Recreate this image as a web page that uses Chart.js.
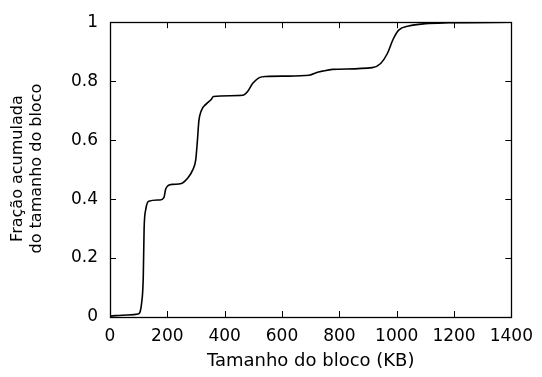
<!DOCTYPE html>
<html>
<head>
<meta charset="utf-8">
<script src="https://cdn.jsdelivr.net/npm/chart.js@4/dist/chart.umd.min.js"></script>
<style>
html,body{margin:0;padding:0;background:#fff;}
#wrap{width:542px;height:377px;position:relative;}
</style>
</head>
<body>
<div id="wrap"><canvas id="c" width="542" height="377"></canvas></div>
<script>
// Data (block size in KB vs cumulative fraction)
const sizesKB = [0, 60, 98, 110, 116, 119, 125, 135, 174, 188, 194, 203, 220, 249, 272, 289, 299, 305, 310, 318, 336, 353, 361, 463, 480, 498, 521, 544, 614, 695, 724, 741, 776, 915, 944, 967, 988, 1007, 1042, 1100, 1181, 1400];
const cumFraction = [0.003, 0.007, 0.01, 0.045, 0.134, 0.30, 0.366, 0.393, 0.397, 0.405, 0.433, 0.446, 0.450, 0.453, 0.472, 0.50, 0.533, 0.60, 0.665, 0.699, 0.723, 0.738, 0.748, 0.752, 0.765, 0.793, 0.812, 0.816, 0.817, 0.820, 0.830, 0.834, 0.840, 0.846, 0.860, 0.893, 0.943, 0.973, 0.987, 0.995, 0.998, 1.0];
const xTicks = [0, 200, 400, 600, 800, 1000, 1200, 1400];
const yTicks = [0, 0.2, 0.4, 0.6, 0.8, 1];
const xTitle = 'Tamanho do bloco (KB)';
const yTitle = ['Fração acumulada', 'do tamanho do bloco'];

const FONT = '"DejaVu Sans", Verdana, sans-serif';
const points = sizesKB.map((x, i) => ({x: x, y: cumFraction[i]}));

const frame = {
  id: 'frame',
  afterDraw(chart) {
    const ctx = chart.ctx, a = chart.chartArea;
    const xs = chart.scales.x, ys = chart.scales.y;
    ctx.save();
    ctx.strokeStyle = '#000';
    ctx.lineWidth = 1;
    ctx.beginPath();
    const L = 6;
    xTicks.forEach(v => {
      const px = Math.round(xs.getPixelForValue(v)) + 0.5;
      ctx.moveTo(px, a.bottom); ctx.lineTo(px, a.bottom - L);
      ctx.moveTo(px, a.top); ctx.lineTo(px, a.top + L);
    });
    yTicks.forEach(v => {
      const py = Math.round(ys.getPixelForValue(v)) + 0.5;
      ctx.moveTo(a.left, py); ctx.lineTo(a.left + L, py);
      ctx.moveTo(a.right, py); ctx.lineTo(a.right - L, py);
    });
    ctx.stroke();
    ctx.lineWidth = 1.3;
    ctx.strokeRect(Math.round(a.left) + 0.5, Math.round(a.top) + 0.5, Math.round(a.right - a.left), Math.round(a.bottom - a.top));
    // titles
    ctx.fillStyle = '#000';
    ctx.textAlign = 'center';
    ctx.textBaseline = 'middle';
    ctx.font = '18px ' + FONT;
    ctx.fillText(xTitle, (a.left + a.right) / 2, 361);
    ctx.font = '16px ' + FONT;
    ctx.translate(0, (a.top + a.bottom) / 2 - 1);
    ctx.rotate(-Math.PI / 2);
    ctx.fillText(yTitle[0], 0, 18);
    ctx.fillText(yTitle[1], 0, 37);
    ctx.restore();
  }
};

new Chart(document.getElementById('c'), {
  type: 'scatter',
  data: {
    datasets: [{
      data: points,
      showLine: true,
      borderColor: '#000',
      borderWidth: 1.6,
      pointRadius: 0,
      cubicInterpolationMode: 'monotone',
      fill: false
    }]
  },
  options: {
    responsive: false,
    animation: false,
    devicePixelRatio: 1,
    layout: {padding: {left: 0, right: 29, top: 16, bottom: 0}},
    plugins: {legend: {display: false}, tooltip: {enabled: false}},
    scales: {
      x: {
        type: 'linear', min: 0, max: 1400,
        afterBuildTicks: s => { s.ticks = xTicks.map(v => ({value: v})); },
        afterFit: s => { s.height = 60; },
        grid: {display: false, drawTicks: false},
        border: {display: false},
        ticks: {color: '#000', font: {family: FONT, size: 17}, padding: 9, maxRotation: 0, autoSkip: false,
          callback: v => String(v)}
      },
      y: {
        type: 'linear', min: 0, max: 1,
        afterBuildTicks: s => { s.ticks = yTicks.map(v => ({value: v})); },
        afterFit: s => { s.width = 110; },
        grid: {display: false, drawTicks: false},
        border: {display: false},
        ticks: {color: '#000', font: {family: FONT, size: 17}, padding: 12, autoSkip: false,
          callback: v => String(v)}
      }
    }
  },
  plugins: [frame]
});
</script>
</body>
</html>
